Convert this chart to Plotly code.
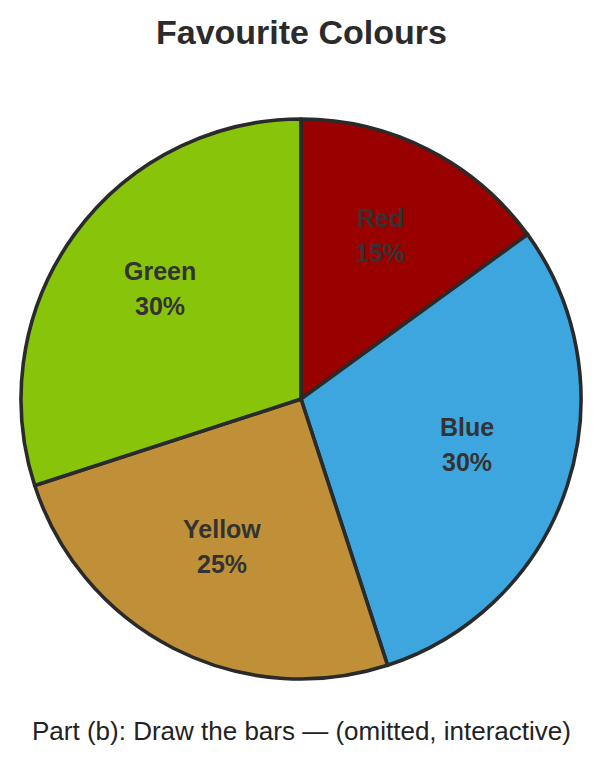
import math
import plotly.graph_objects as go

labels = ["Red", "Blue", "Yellow", "Green"]
values = [15, 30, 25, 30]
colors = ["#990000", "#3ea6df", "#c09038", "#88c40a"]

# page body has an 8px margin; figure sized to fit the window
OFF = 8
W, H = 602 - OFF, 762 - OFF
ML, MR, MT, MB = 13, 21, 111, 83
PW, PH = W - ML - MR, H - MT - MB
cx, cy = PW / 2, PH / 2
R = min(PW, PH) / 2

fig = go.Figure(go.Pie(
    labels=labels, values=values, sort=False, direction="clockwise", rotation=0,
    marker=dict(colors=colors, line=dict(color="#2a2a2a", width=3.6)),
    textinfo="none", hoverinfo="label+percent", showlegend=False,
))

FONT = "Liberation Sans, Arial, sans-serif"
annotations = []
total = sum(values)
acc = 0
for lab, v in zip(labels, values):
    mid = (acc + v / 2) / total * 2 * math.pi
    acc += v
    r = 0.622 * R
    px = cx + r * math.sin(mid)
    py = cy - r * math.cos(mid) - 8
    pct = f"{round(v / total * 100)}%"
    for txt, off in ((lab, -17.5), (pct, 17.5)):
        annotations.append(dict(
            x=px / PW, y=1 - (py + off) / PH, xref="paper", yref="paper",
            text=f"<b>{txt}</b>", showarrow=False, xanchor="center", yanchor="middle",
            font=dict(family=FONT, size=25, color="#333333"),
        ))

def paper_xy(x, y):
    return (x - OFF - ML) / PW, 1 - (y - OFF - MT) / PH

tx, ty = paper_xy(301, 32)
annotations.append(dict(
    x=tx, y=ty, xref="paper", yref="paper", text="<b>Favourite Colours</b>",
    showarrow=False, xanchor="center", yanchor="middle",
    font=dict(family=FONT, size=34, color="#2b2b2b"),
))
bx, by = paper_xy(301, 731)
annotations.append(dict(
    x=bx, y=by, xref="paper", yref="paper",
    text="Part (b): Draw the bars — (omitted, interactive)",
    showarrow=False, xanchor="center", yanchor="middle",
    font=dict(family=FONT, size=26, color="#222222"),
))

fig.update_layout(
    width=W, height=H, margin=dict(l=ML, r=MR, t=MT, b=MB),
    paper_bgcolor="white", plot_bgcolor="white", annotations=annotations,
)
fig.write_html("out.html")
